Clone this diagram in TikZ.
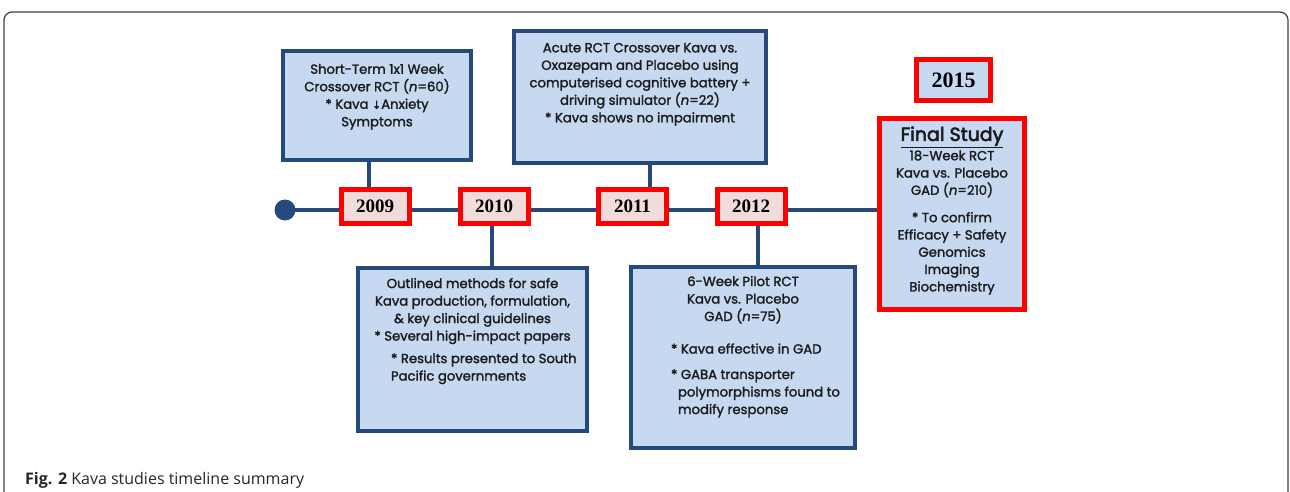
\documentclass[tikz,border=0pt]{standalone}
\usepackage{fontspec}
\setmainfont{Poppins}[FakeBold=1.8]
\newfontfamily\titlefont{Poppins}[FakeBold=3]
\newfontfamily\capfont{Open Sans}
\newfontfamily\yearfont{Liberation Serif}
\newfontfamily\symfont{DejaVu Sans}[FakeBold=1.8]
\usetikzlibrary{shadows}
\pgfdeclarelayer{background}
\pgfsetlayers{background,main}
\definecolor{boxblue}{HTML}{24497A}
\definecolor{fillblue}{HTML}{C6D9F1}
\definecolor{yearfill}{HTML}{F2DCDB}
\definecolor{redb}{HTML}{FF0000}
\definecolor{txt}{HTML}{1C1C1C}
\newcommand\bxt[4]{\parbox[c][#2][t]{#1}{\vspace*{#3}\centering #4\par}}
\tikzset{
  shad/.style={drop shadow={shadow xshift=2pt,shadow yshift=-2pt,opacity=0.35,fill=black!60}},
  infobox/.style={draw=boxblue, line width=4pt, fill=fillblue, inner sep=0pt, text=txt,
    font=\fontsize{13.2}{17.5}\selectfont, shad},
  yearbox/.style={draw=redb, line width=5pt, fill=yearfill, inner sep=0pt,
    minimum width=68pt, minimum height=34pt, text=black,
    font=\yearfont\bfseries\fontsize{19}{21}\selectfont, shad},
  finalbox/.style={draw=redb, line width=5pt, fill=fillblue, inner sep=0pt, text=txt,
    font=\fontsize{13.2}{17.3}\selectfont, shad},
  tl/.style={draw=boxblue, line width=4pt},
}
\begin{document}
\begin{tikzpicture}[x=1pt,y=-1pt]
\useasboundingbox (0,0) rectangle (1290,492);
\draw[line width=1.2pt, black!75, rounded corners=8pt] (4,500) -- (4,12) -- (1288,12) -- (1288,500);

% year boxes
\node[yearbox] (y2009) at (375,206) {2009};
\node[yearbox] (y2010) at (494,206) {2010};
\node[yearbox] (y2011) at (632.5,206) {2011};
\node[yearbox] (y2012) at (751,206) {2012};
\node[yearbox, fill=fillblue, minimum width=74pt, minimum height=41pt,
      font=\yearfont\bfseries\fontsize{22}{24}\selectfont] (y2015) at (953.5,80) {2015};

% info boxes
\node[infobox] (b1) at (377,105.5) {\bxt{188pt}{109pt}{13pt}{%
  Short-Term 1x1 Week\\
  Crossover RCT (\textit{n}=60)\\{}
  * Kava {\symfont\fontsize{11}{12}\selectfont ↓}Anxiety\\
  Symptoms}};
\node[infobox] (b2) at (640,97) {\bxt{252pt}{132pt}{12pt}{%
  Acute RCT Crossover Kava vs.\\
  Oxazepam and Placebo using\\
  computerised cognitive battery +\\
  driving simulator (\textit{n}=22)\\{}
  * Kava shows no impairment}};
\node[infobox] (b3) at (472.5,349.5) {\bxt{229pt}{163pt}{10pt}{%
  Outlined methods for safe\\
  Kava production, formulation,\\
  \& key clinical guidelines\\{}
  * Several high-impact papers\par
  \vspace{5pt}\raggedright\leftskip=33pt
  * Results presented to South\\
  Pacific governments}};
\node[infobox] (b4) at (743,357.5) {\bxt{224pt}{181pt}{9pt}{%
  6-Week Pilot RCT\\
  Kava vs. Placebo\\
  GAD (\textit{n}=75)\par
  \vspace{15pt}\raggedright\leftskip=40pt
  * Kava effective in GAD\par
  \vspace{8pt}
  * GABA transporter\\
  \hspace*{7pt}polymorphisms found to\\
  \hspace*{7pt}modify response}};
\node[finalbox] (fin) at (952,214) {\bxt{145pt}{191pt}{8pt}{%
  {\titlefont\fontsize{19}{21}\selectfont\underline{Final Study}}\\[2pt]
  18-Week RCT\\
  Kava vs. Placebo\\
  GAD (\textit{n}=210)\par
  \vspace{10pt}
  * To confirm\\
  Efficacy + Safety\\
  Genomics\\
  Imaging\\
  Biochemistry}};

% timeline dot
\node[circle, fill=boxblue, inner sep=0pt, minimum size=21pt] (dot) at (285,210) {};

\begin{pgfonlayer}{background}
  \draw[tl] (dot.center) -- (dot.center -| fin.west);
  \draw[tl] ([xshift=-6pt]y2009.north) -- ([xshift=-6pt]y2009.north |- b1.south);
  \draw[tl] ([xshift=-2pt]y2010.south) -- ([xshift=-2pt]y2010.south |- b3.north);
  \draw[tl] ([xshift=17.5pt]y2011.north) -- ([xshift=17.5pt]y2011.north |- b2.south);
  \draw[tl] ([xshift=7pt]y2012.south) -- ([xshift=7pt]y2012.south |- b4.north);
\end{pgfonlayer}

% caption
\node[anchor=base west, inner sep=0pt, text=black!85, font=\capfont\fontsize{16}{18}\selectfont] (cap) at (25,484)
  {\textbf{Fig. 2} Kava studies timeline summary};
\end{tikzpicture}
\end{document}
